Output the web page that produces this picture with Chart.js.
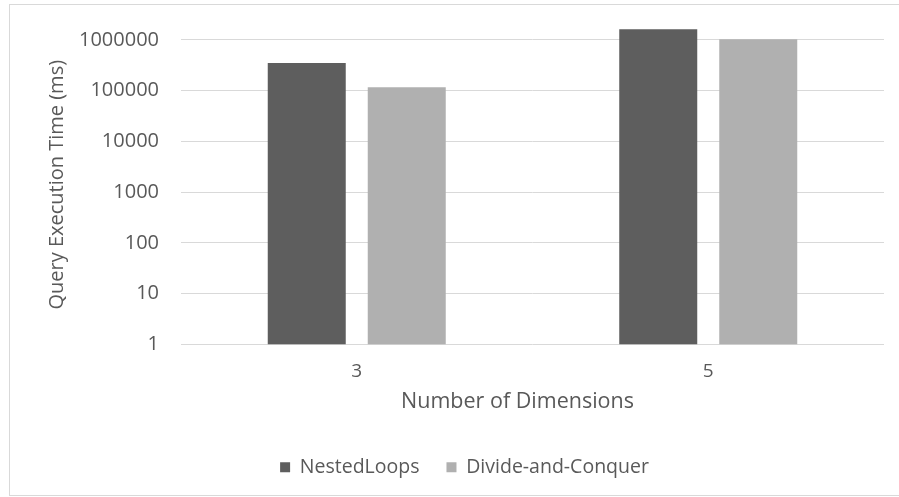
<!DOCTYPE html>
<html>
<head>
<meta charset="utf-8">
<script src="https://cdn.jsdelivr.net/npm/chart.js@4/dist/chart.umd.min.js"></script>
<style>
  html, body { margin: 0; padding: 0; background: #ffffff; }
  #wrap { position: absolute; left: 0; top: 0; width: 899px; height: 497px; }
</style>
</head>
<body>
<div id="wrap"><canvas id="c" width="899" height="497"></canvas></div>
<script>
// Number of dimensions on the x axis
const dimensions = ['3', '5'];
// Query execution time in milliseconds
const nestedLoops = [352000, 1630000];
const divideAndConquer = [117000, 1030000];
// Decade ticks on the log axis
const yTicks = [1, 10, 100, 1000, 10000, 100000, 1000000];
const xTitle = 'Number of Dimensions';

const FONT = "'Open Sans', 'DejaVu Sans', sans-serif";
const TEXT = '#595959';

// Light frame round the whole figure
const framePlugin = {
  id: 'frame',
  beforeDraw(chart) {
    const ctx = chart.ctx;
    ctx.save();
    ctx.fillStyle = '#ffffff';
    ctx.fillRect(0, 0, chart.width, chart.height);
    ctx.strokeStyle = '#d9d9d9';
    ctx.lineWidth = 1;
    ctx.strokeRect(9.5, 4.5, 900, 491);
    ctx.restore();
  }
};

// X axis title, set a little left of the plot centre
const xTitlePlugin = {
  id: 'xTitle',
  afterDraw(chart) {
    const ctx = chart.ctx;
    const area = chart.chartArea;
    ctx.save();
    ctx.fillStyle = TEXT;
    ctx.font = "21.5px " + FONT;
    ctx.textAlign = 'center';
    ctx.textBaseline = 'middle';
    ctx.fillText(xTitle, (area.left + area.right) / 2 - 15, area.bottom + 57);
    ctx.restore();
  }
};

new Chart(document.getElementById('c'), {
  type: 'bar',
  data: {
    labels: dimensions,
    datasets: [
      { label: 'NestedLoops', data: nestedLoops, backgroundColor: '#5e5e5e', borderWidth: 0 },
      { label: 'Divide-and-Conquer', data: divideAndConquer, backgroundColor: '#b0b0b0', borderWidth: 0 }
    ]
  },
  options: {
    responsive: false,
    animation: false,
    devicePixelRatio: 1,
    categoryPercentage: 0.569,
    barPercentage: 0.78,
    layout: { padding: { left: 45, right: 15, top: 25, bottom: 10 } },
    plugins: {
      tooltip: { enabled: false },
      legend: {
        position: 'bottom',
        labels: {
          boxWidth: 10,
          boxHeight: 10,
          padding: 27,
          color: TEXT,
          font: { family: FONT, size: 19.5 }
        }
      }
    },
    scales: {
      x: {
        grid: { display: false },
        border: { display: false },
        ticks: { color: TEXT, font: { family: FONT, size: 19 }, padding: 8 },
        afterFit(scale) { scale.height = 86; }
      },
      y: {
        type: 'logarithmic',
        min: 1,
        max: 1970000,
        border: { display: false },
        grid: { color: '#d9d9d9', lineWidth: 1, drawTicks: false },
        afterBuildTicks(scale) { scale.ticks = yTicks.map(v => ({ value: v })); },
        ticks: {
          color: TEXT,
          font: { family: FONT, size: 20 },
          padding: 22,
          callback: v => String(v)
        },
        title: { display: true, text: 'Query Execution Time (ms)', color: TEXT, font: { family: FONT, size: 20 }, padding: { top: 0, bottom: 0 } },
        afterFit(scale) {
          scale.width = 136;
          scale.paddingTop = 0;
        }
      }
    }
  },
  plugins: [framePlugin, xTitlePlugin]
});
</script>
</body>
</html>
